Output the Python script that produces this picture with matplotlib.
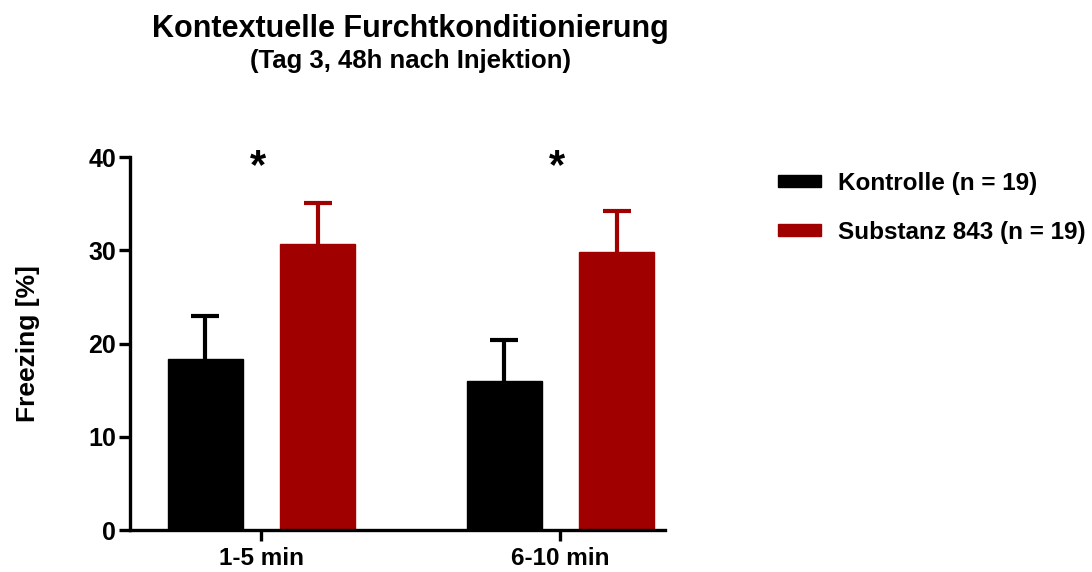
import numpy as np
import matplotlib.pyplot as plt
from matplotlib.patches import Patch

plt.rcParams['font.family'] = ['Liberation Sans', 'DejaVu Sans']
plt.rcParams['font.weight'] = 'bold'

# freezing in percent, mean and SEM per time block
categories = ['1-5 min', '6-10 min']
kontrolle_mean = [18.3, 16.0]
kontrolle_sem = [4.7, 4.4]
substanz_mean = [30.7, 29.8]
substanz_sem = [4.4, 4.4]
groups = ['Kontrolle (n = 19)', 'Substanz 843 (n = 19)']
colors = ['#000000', '#a00000']
significance = ['*', '*']

fig = plt.figure(figsize=(10.92, 5.72), dpi=100)
ax = fig.add_axes([0.119, 0.0734, 0.490, 0.652])

x = np.arange(len(categories))
width = 0.25
offset = 0.188

for xs, means, sems, c in [(x - offset, kontrolle_mean, kontrolle_sem, colors[0]),
                           (x + offset, substanz_mean, substanz_sem, colors[1])]:
    # symmetric error bars drawn behind the bars, so only the upper half shows
    ax.errorbar(xs, means, yerr=sems, fmt='none', ecolor=c, elinewidth=3.0,
                capsize=10, capthick=3.0, zorder=1)
    ax.bar(xs, means, width, color=c, edgecolor=c, zorder=2)

for xi, s in zip(x, significance):
    ax.text(xi - 0.012, 37.75, s, ha='center', va='baseline', fontsize=30,
            fontweight='bold')

ax.set_xlim(-0.44, 1.35)
ax.set_ylim(0, 40)
ax.set_yticks([0, 10, 20, 30, 40])
ax.set_xticks(x)
ax.set_xticklabels(categories, fontsize=17.5, fontweight='bold')
ax.tick_params(axis='y', labelsize=18, width=2.4, length=8, pad=2)
ax.tick_params(axis='x', width=2.4, length=8, pad=4)
ax.set_ylabel('Freezing [%]', fontsize=19, fontweight='bold', labelpad=35)

for side in ['top', 'right']:
    ax.spines[side].set_visible(False)
for side in ['left', 'bottom']:
    ax.spines[side].set_linewidth(2.4)

handles = [Patch(facecolor=c, edgecolor=c) for c in colors]
fig.legend(handles, groups, loc='upper left', bbox_to_anchor=(0.7125, 0.699),
           frameon=False, fontsize=17.5, handlelength=1.75, handleheight=0.38,
           labelspacing=1.07, handletextpad=0.7, borderpad=0,
           borderaxespad=0)

fig.text(0.376, 0.950, 'Kontextuelle Furchtkonditionierung', ha='center',
         va='center', fontsize=22, fontweight='bold')
fig.text(0.376, 0.893, '(Tag 3, 48h nach Injektion)', ha='center',
         va='center', fontsize=18.5, fontweight='bold')

fig.savefig('out.png', dpi=100)
